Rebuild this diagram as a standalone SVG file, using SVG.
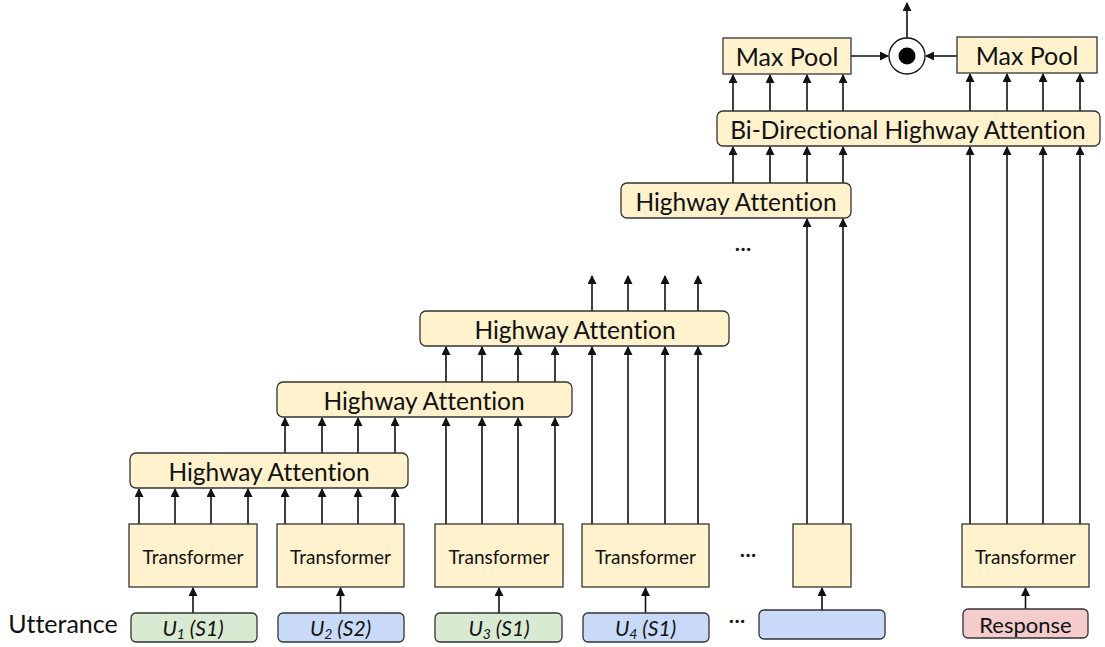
<svg xmlns="http://www.w3.org/2000/svg" width="1105" height="647" viewBox="0 0 1105 647">
  <style>
    .box { fill: #FFF2CC; stroke: #333; stroke-width: 1.3; }
    .utt-g { fill: #D9EAD3; stroke: #333; stroke-width: 1.3; }
    .utt-b { fill: #C9DAF8; stroke: #333; stroke-width: 1.3; }
    .utt-r { fill: #F4CCCC; stroke: #333; stroke-width: 1.3; }
    .t { font-family: Lato, "Open Sans", sans-serif; fill: #111; text-anchor: middle; dominant-baseline: central; font-variant-ligatures: none; }
    .big { font-size: 24.5px; }
    .mid { font-size: 19px; }
    .it { font-style: italic; font-size: 21px; }
    .dots { font-family: Lato, sans-serif; font-size: 22px; fill: #111; text-anchor: middle; }
    .c { stroke: #111; stroke-width: 1.6; fill: none; marker-end: url(#arr); }
  </style>
  <defs>
    <marker id="arr" markerWidth="9" markerHeight="10" refX="8" refY="4.5" orient="auto" markerUnits="userSpaceOnUse">
      <path d="M0,0 L9,4.5 L0,9 z" fill="#111"/>
    </marker>
  </defs>
  <rect width="1105" height="647" fill="#fff"/>

  <!-- connectors -->
  <g id="connectors">
    <!-- utterance to transformer -->
    <line class="c" x1="193" y1="613" x2="193" y2="588"/>
    <line class="c" x1="340.5" y1="613" x2="340.5" y2="588"/>
    <line class="c" x1="499" y1="613" x2="499" y2="588"/>
    <line class="c" x1="645.5" y1="613" x2="645.5" y2="588"/>
    <line class="c" x1="822" y1="610" x2="822" y2="588"/>
    <line class="c" x1="1025.5" y1="609" x2="1025.5" y2="588"/>
    <!-- transformer 1 and 2 into first highway attention -->
    <line class="c" x1="139" y1="524" x2="139" y2="489"/>
    <line class="c" x1="175" y1="524" x2="175" y2="489"/>
    <line class="c" x1="211" y1="524" x2="211" y2="489"/>
    <line class="c" x1="248" y1="524" x2="248" y2="489"/>
    <line class="c" x1="285" y1="524" x2="285" y2="489"/>
    <line class="c" x1="322" y1="524" x2="322" y2="489"/>
    <line class="c" x1="358" y1="524" x2="358" y2="489"/>
    <line class="c" x1="395" y1="524" x2="395" y2="489"/>
    <!-- first HA to second HA -->
    <line class="c" x1="285" y1="453" x2="285" y2="418"/>
    <line class="c" x1="322" y1="453" x2="322" y2="418"/>
    <line class="c" x1="358" y1="453" x2="358" y2="418"/>
    <line class="c" x1="395" y1="453" x2="395" y2="418"/>
    <!-- transformer 3 into second HA -->
    <line class="c" x1="446" y1="524" x2="446" y2="418"/>
    <line class="c" x1="482" y1="524" x2="482" y2="418"/>
    <line class="c" x1="518" y1="524" x2="518" y2="418"/>
    <line class="c" x1="555" y1="524" x2="555" y2="418"/>
    <!-- second HA to third HA -->
    <line class="c" x1="446" y1="382" x2="446" y2="347"/>
    <line class="c" x1="482" y1="382" x2="482" y2="347"/>
    <line class="c" x1="518" y1="382" x2="518" y2="347"/>
    <line class="c" x1="555" y1="382" x2="555" y2="347"/>
    <!-- transformer 4 into third HA -->
    <line class="c" x1="592" y1="524" x2="592" y2="347"/>
    <line class="c" x1="628" y1="524" x2="628" y2="347"/>
    <line class="c" x1="665" y1="524" x2="665" y2="347"/>
    <line class="c" x1="698" y1="524" x2="698" y2="347"/>
    <!-- third HA outputs -->
    <line class="c" x1="592" y1="311" x2="592" y2="276"/>
    <line class="c" x1="628" y1="311" x2="628" y2="276"/>
    <line class="c" x1="665" y1="311" x2="665" y2="276"/>
    <line class="c" x1="698" y1="311" x2="698" y2="276"/>
    <!-- last context encoder into top HA -->
    <line class="c" x1="807" y1="524" x2="807" y2="219"/>
    <line class="c" x1="843" y1="524" x2="843" y2="219"/>
    <!-- top HA to bi-directional -->
    <line class="c" x1="733" y1="183" x2="733" y2="147"/>
    <line class="c" x1="770" y1="183" x2="770" y2="147"/>
    <line class="c" x1="807" y1="183" x2="807" y2="147"/>
    <line class="c" x1="843" y1="183" x2="843" y2="147"/>
    <!-- response transformer to bi-directional -->
    <line class="c" x1="970" y1="524" x2="970" y2="147"/>
    <line class="c" x1="1007" y1="524" x2="1007" y2="147"/>
    <line class="c" x1="1043" y1="524" x2="1043" y2="147"/>
    <line class="c" x1="1080" y1="524" x2="1080" y2="147"/>
    <!-- bi-directional to max pools -->
    <line class="c" x1="733" y1="111" x2="733" y2="75"/>
    <line class="c" x1="770" y1="111" x2="770" y2="75"/>
    <line class="c" x1="807" y1="111" x2="807" y2="75"/>
    <line class="c" x1="843" y1="111" x2="843" y2="75"/>
    <line class="c" x1="970" y1="111" x2="970" y2="74"/>
    <line class="c" x1="1007" y1="111" x2="1007" y2="74"/>
    <line class="c" x1="1043" y1="111" x2="1043" y2="74"/>
    <line class="c" x1="1080" y1="111" x2="1080" y2="74"/>
    <!-- max pools into product -->
    <line class="c" x1="851" y1="56" x2="888" y2="56"/>
    <line class="c" x1="957" y1="56" x2="926" y2="56"/>
    <line class="c" x1="907" y1="38" x2="907" y2="3"/>
  </g>

  <!-- utterance inputs -->
  <text class="t" x="63" y="623" font-size="25px">Utterance</text>
  <g id="u1">
    <rect class="utt-g" x="131" y="613" width="126" height="29" rx="5"/>
    <text class="t it" x="193" y="627">U<tspan font-size="14" dy="6">1</tspan><tspan dy="-6"> (S1)</tspan></text>
  </g>
  <g id="u2">
    <rect class="utt-b" x="278" y="613" width="126" height="29" rx="5"/>
    <text class="t it" x="340.5" y="627">U<tspan font-size="14" dy="6">2</tspan><tspan dy="-6"> (S2)</tspan></text>
  </g>
  <g id="u3">
    <rect class="utt-g" x="435" y="613" width="127" height="29" rx="5"/>
    <text class="t it" x="499" y="627">U<tspan font-size="14" dy="6">3</tspan><tspan dy="-6"> (S1)</tspan></text>
  </g>
  <g id="u4">
    <rect class="utt-b" x="583" y="613" width="126" height="29" rx="5"/>
    <text class="t it" x="645.5" y="627">U<tspan font-size="14" dy="6">4</tspan><tspan dy="-6"> (S1)</tspan></text>
  </g>
  <g id="un">
    <rect class="utt-b" x="759" y="610" width="126" height="29" rx="5"/>
  </g>
  <g id="response">
    <rect class="utt-r" x="963" y="609" width="125" height="29" rx="5"/>
    <text class="t" x="1025.5" y="624" font-size="22px">Response</text>
  </g>
  <text class="dots" x="737" y="628">···</text>

  <!-- transformers -->
  <g id="tr1"><rect class="box" x="129" y="524" width="128" height="63"/><text class="t mid" x="193" y="556">Transformer</text></g>
  <g id="tr2"><rect class="box" x="277" y="524" width="127" height="63"/><text class="t mid" x="340.5" y="556">Transformer</text></g>
  <g id="tr3"><rect class="box" x="435" y="524" width="128" height="63"/><text class="t mid" x="499" y="556">Transformer</text></g>
  <g id="tr4"><rect class="box" x="582" y="524" width="127" height="63"/><text class="t mid" x="645.5" y="556">Transformer</text></g>
  <g id="trn"><rect class="box" x="793" y="524" width="58" height="63"/></g>
  <g id="tr-resp"><rect class="box" x="962" y="524" width="127" height="63"/><text class="t mid" x="1025.5" y="556">Transformer</text></g>
  <text class="dots" x="748" y="562">···</text>

  <!-- highway attention stack -->
  <g id="ha1"><rect class="box" x="130" y="453" width="278" height="35" rx="6"/><text class="t big" x="269" y="471">Highway Attention</text></g>
  <g id="ha2"><rect class="box" x="277" y="382" width="295" height="35" rx="6"/><text class="t big" x="424" y="400">Highway Attention</text></g>
  <g id="ha3"><rect class="box" x="420" y="311" width="309" height="35" rx="6"/><text class="t big" x="575" y="329">Highway Attention</text></g>
  <g id="ha4"><rect class="box" x="621" y="183" width="230" height="35" rx="6"/><text class="t big" x="736" y="201">Highway Attention</text></g>
  <text class="dots" x="743" y="256">···</text>

  <g id="bidir"><rect class="box" x="717" y="111" width="383" height="35" rx="6"/><text class="t big" x="908" y="129">Bi-Directional Highway Attention</text></g>

  <g id="maxpool-l"><rect class="box" x="723" y="38" width="128" height="36"/><text class="t" x="787" y="56" font-size="25px">Max Pool</text></g>
  <g id="maxpool-r"><rect class="box" x="957" y="37" width="140" height="36"/><text class="t" x="1027" y="55" font-size="25px">Max Pool</text></g>

  <g id="product">
    <circle cx="907" cy="56" r="18" fill="#fff" stroke="#111" stroke-width="1.3"/>
    <circle cx="907" cy="56" r="8.5" fill="#000"/>
  </g>
</svg>
